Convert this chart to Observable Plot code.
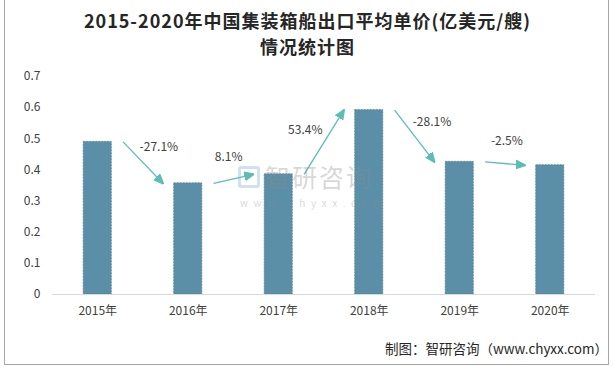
<!DOCTYPE html>
<html><head><meta charset="utf-8">
<script src="https://cdn.jsdelivr.net/npm/d3@7"></script>
<script src="https://cdn.jsdelivr.net/npm/@observablehq/plot@0.6"></script>
<style>
body{margin:0;background:#fff;}
#wrap{position:relative;width:615px;height:367px;overflow:hidden;background:#fff;}
#frame{position:absolute;left:4px;top:-1px;width:605px;height:366px;border:1px solid #a6a6a6;box-sizing:border-box;}
.title{position:absolute;left:0;width:615px;text-align:center;font-family:"Noto Sans CJK SC",sans-serif;font-weight:bold;font-size:18px;letter-spacing:1px;color:#262626;white-space:nowrap;}
#t1{top:7px;}
#t2{top:33px;}
#chart{position:absolute;top:60px;left:0;}
#caption{position:absolute;right:7px;top:338px;font-family:"Noto Sans CJK SC",sans-serif;font-size:13.5px;color:#262626;}
.wm{position:absolute;color:rgba(140,140,140,0.35);font-family:"Noto Sans CJK SC",sans-serif;pointer-events:none;white-space:nowrap;}
#wmBig{left:265px;top:158px;font-size:25px;letter-spacing:2px;}
#wmSmall{left:240px;top:195px;font-size:10px;letter-spacing:5.6px;}
#wmLogo{position:absolute;left:238px;top:166px;width:22px;height:22px;border:3px solid rgba(120,170,220,0.35);border-radius:3px;box-sizing:border-box;}
</style></head>
<body>
<div id="wrap">
  <div id="frame"></div>
  <div class="title" id="t1">2015-2020年中国集装箱船出口平均单价(亿美元/艘)</div>
  <div class="title" id="t2">情况统计图</div>
  <div id="chart"></div>
  <div id="wmLogo"></div>
  <div class="wm" id="wmBig">智研咨询</div>
  <div class="wm" id="wmSmall">www.chyxx.com</div>
  <div id="caption">制图：智研咨询（www.chyxx.com）</div>
</div>
<script>
const years = ["2015年", "2016年", "2017年", "2018年", "2019年", "2020年"];
const prices = [0.49, 0.357, 0.386, 0.592, 0.426, 0.415];
const growth = ["-27.1%", "8.1%", "53.4%", "-28.1%", "-2.5%"];
const yTicks = [0, 0.1, 0.2, 0.3, 0.4, 0.5, 0.6, 0.7];

const bars = years.map((y, i) => ({i, year: y, v: prices[i]}));
const arrows = growth.map((g, i) => ({i, label: g, v1: prices[i], v2: prices[i + 1]}));

const BAR_HALF = 0.155;
const ARROW_GAP = 0.28;
const ARROW_COLOR = "#5cbdb7";
const FONT = "'Microsoft YaHei','Noto Sans CJK SC',sans-serif";

function filledArrow(color) {
  const m = document.createElementNS("http://www.w3.org/2000/svg", "marker");
  m.setAttribute("viewBox", "-5 -5 10 10");
  m.setAttribute("markerWidth", "10");
  m.setAttribute("markerHeight", "10");
  m.setAttribute("markerUnits", "userSpaceOnUse");
  m.setAttribute("orient", "auto");
  m.setAttribute("refX", "4");
  m.setAttribute("refY", "0");
  const p = document.createElementNS("http://www.w3.org/2000/svg", "path");
  p.setAttribute("d", "M-5,-4.2L5,0L-5,4.2Z");
  p.setAttribute("fill", color);
  m.appendChild(p);
  return m;
}

let markerOpt = filledArrow;

function make(offsets) {
  const labelMarks = arrows.map((d, k) => Plot.text([d], {
    x: a => a.i + 0.5,
    y: a => (a.v1 + a.v2) / 2,
    text: "label",
    dx: offsets[k][0],
    dy: offsets[k][1],
    fill: "#404040",
    fontSize: 12,
    fontFamily: FONT
  }));
  return Plot.plot({
    width: 615,
    height: 270,
    marginLeft: 52,
    marginRight: 20,
    marginTop: 16,
    marginBottom: 36,
    style: {fontFamily: FONT, fontSize: "12px", color: "#404040", background: "transparent"},
    x: {type: "linear", domain: [-0.5, years.length - 0.5], ticks: years.map((_, i) => i),
        tickFormat: i => years[i], tickSize: 0, tickPadding: 12, label: null},
    y: {domain: [0, 0.7], ticks: yTicks, tickFormat: d => d === 0 ? "0" : d.toFixed(1),
        tickSize: 0, tickPadding: 12, label: null},
    marks: [
      Plot.rectY(bars, {x1: d => d.i - BAR_HALF, x2: d => d.i + BAR_HALF, y1: 0, y2: "v",
        fill: "#5b8fa8", stroke: "#4f8099", strokeWidth: 0.8, strokeDasharray: "2,1"}),
      Plot.ruleY([0], {stroke: "#d9d9d9", strokeWidth: 1}),
      Plot.link(arrows, {x1: d => d.i + ARROW_GAP, y1: "v1", x2: d => d.i + 1 - ARROW_GAP, y2: "v2",
        stroke: ARROW_COLOR, strokeWidth: 1.3, markerEnd: markerOpt}),
      ...labelMarks
    ]
  });
}

let plot;
const zero = arrows.map(() => [0, 0]);
try { plot = make(zero); } catch (e) { markerOpt = "arrow"; plot = make(zero); }
const sx = plot.scale("x"), sy = plot.scale("y");
const DIST = 22;
const offsets = arrows.map(d => {
  const x1 = sx.apply(d.i + ARROW_GAP), x2 = sx.apply(d.i + 1 - ARROW_GAP);
  const y1 = sy.apply(d.v1), y2 = sy.apply(d.v2);
  const L = Math.hypot(x2 - x1, y2 - y1);
  const ux = (x2 - x1) / L, uy = (y2 - y1) / L;
  return [uy * DIST, -ux * DIST];
});
plot = make(offsets);
document.getElementById("chart").appendChild(plot);
</script>
</body></html>
